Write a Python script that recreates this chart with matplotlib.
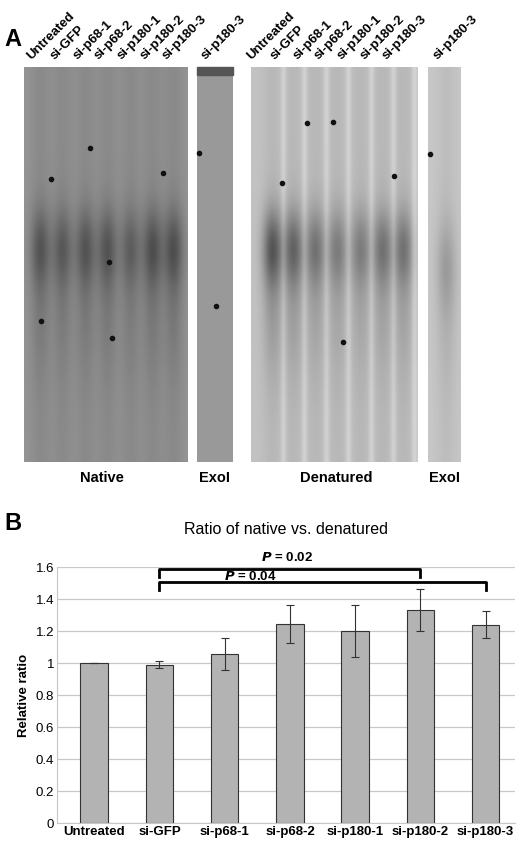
import matplotlib.pyplot as plt
import numpy as np

conditions = ["Untreated", "si-GFP", "si-p68-1", "si-p68-2", "si-p180-1", "si-p180-2", "si-p180-3"]
ratio = [1.00, 0.99, 1.055, 1.245, 1.20, 1.33, 1.24]
ratio_err = [0.003, 0.02, 0.10, 0.12, 0.165, 0.13, 0.085]
# relative band darkness in each lane (read by eye from the gels)
native_band = [0.55, 0.50, 0.55, 0.55, 0.45, 0.60, 0.60]
denat_band = [1.00, 0.85, 0.70, 0.60, 0.60, 0.70, 0.70]

plt.rcParams['font.family'] = ['Liberation Sans', 'DejaVu Sans']

W, H = 520, 846
fig = plt.figure(figsize=(W / 100, H / 100), dpi=100)
ov = fig.add_axes([0, 0, 1, 1])
ov.set_xlim(0, W)
ov.set_ylim(H, 0)
ov.axis('off')

gel_top, gel_bot = 67, 462


def make_gel(x0, x1, base, centers, bands, streak, band_y=247, sig=38):
    xs = np.arange(x0, x1)
    ys = np.arange(gel_top, gel_bot)
    X, Y = np.meshgrid(xs, ys)
    img = np.full(X.shape, base, dtype=float)
    yprof = np.exp(-((Y - band_y) / sig) ** 2) + 0.35 * np.exp(-((Y - band_y - 60) / 70) ** 2)
    for c, b in zip(centers, bands):
        lane = np.exp(-((X - c) / 7.0) ** 2 / 2)
        img -= 0.33 * b * lane * yprof + 0.04 * lane
        if streak:
            img += streak * np.exp(-((X - c - 11) / 3.0) ** 2)
    ov.imshow(np.clip(img, 0, 1), cmap='gray', vmin=0, vmax=1,
              extent=[x0, x1, gel_bot, gel_top], aspect='auto', zorder=1)


native_x = [40, 62, 85, 107, 130, 152, 173]
denat_x = [272, 293, 315, 337, 360, 382, 403]
make_gel(24, 188, 0.58, native_x, native_band, 0.0)
make_gel(197, 233, 0.60, [], [], 0.0)
ov.add_patch(plt.Rectangle((197, 67), 36, 8, color='#555555', zorder=2))
make_gel(251, 418, 0.76, denat_x, denat_band, 0.08)
make_gel(428, 461, 0.78, [446], [0.35], 0.0, band_y=265, sig=45)

# a few specks
specks = [(51, 179), (163, 173), (90, 148), (109, 262), (41, 321), (112, 338), (199, 153),
          (282, 183), (394, 176), (216, 306), (430, 154), (343, 342), (307, 123), (333, 122)]
for sx, sy in specks:
    ov.plot(sx, sy, 'o', color='#111111', ms=3, zorder=3)

label_x = [33, 57, 80, 101, 124, 147, 169]
for i, lab in enumerate(conditions):
    for off in (0, 220):
        ov.text(label_x[i] + off, 62, lab, rotation=45, rotation_mode='anchor', ha='left',
                va='bottom', fontsize=9.5, fontweight='bold')
ov.text(208, 62, "si-p180-3", rotation=45, rotation_mode='anchor', ha='left', va='bottom',
        fontsize=9.5, fontweight='bold')
ov.text(440, 62, "si-p180-3", rotation=45, rotation_mode='anchor', ha='left', va='bottom',
        fontsize=9.5, fontweight='bold')
for x, lab in [(102, "Native"), (215, "ExoI"), (336, "Denatured"), (445, "ExoI")]:
    ov.text(x, 478, lab, ha='center', va='center', fontsize=10.5, fontweight='bold')
ov.text(4, 40, "A", fontsize=17, fontweight='bold', va='center')
ov.text(4, 523, "B", fontsize=17, fontweight='bold', va='center')
ov.text(286, 529, "Ratio of native vs. denatured", ha='center', va='center', fontsize=11.5)

# bar chart
ax = fig.add_axes([57 / W, 1 - 823 / H, (515 - 57) / W, (823 - 567) / H])
x = np.arange(len(conditions))
ax.bar(x, ratio, width=0.42, color='#b3b3b3', edgecolor='#333333', linewidth=0.8, zorder=3)
ax.errorbar(x, ratio, yerr=ratio_err, fmt='none', ecolor='#333333', elinewidth=0.8,
            capsize=3, capthick=0.8, zorder=4)
ax.set_xlim(-0.57, 6.45)
ax.set_ylim(0, 1.6)
ax.set_yticks(np.arange(0, 1.61, 0.2))
ax.set_yticklabels(["0", "0.2", "0.4", "0.6", "0.8", "1", "1.2", "1.4", "1.6"], fontsize=9.5)
ax.set_xticks(x)
ax.set_xticklabels(conditions, fontsize=9.5, fontweight='bold')
ax.tick_params(length=0, pad=2)
ax.yaxis.grid(True, color='#c8c8c8', linewidth=0.9, zorder=0)
for s in ['top', 'right']:
    ax.spines[s].set_visible(False)
ax.spines['left'].set_color('#c8c8c8')
ax.spines['bottom'].set_color('#c8c8c8')
ax.set_ylabel("Relative ratio", fontsize=9.5, fontweight='bold', labelpad=4)

# significance brackets
def bracket(x0, x1, y, drop):
    ax.plot([x0, x0, x1, x1], [y - drop, y, y, y - drop], color='black', lw=2,
            clip_on=False, zorder=5)

bracket(1, 5, 1.585, 0.05)
bracket(1, 6, 1.505, 0.05)
ax.text(2.95, 1.66, r"$\boldsymbol{P}$ = 0.02", ha='center', va='center', fontsize=9.5, fontweight='bold')
ax.text(2.4, 1.54, r"$\boldsymbol{P}$ = 0.04", ha='center', va='center', fontsize=9.5, fontweight='bold')

fig.savefig("out.png", dpi=100)
